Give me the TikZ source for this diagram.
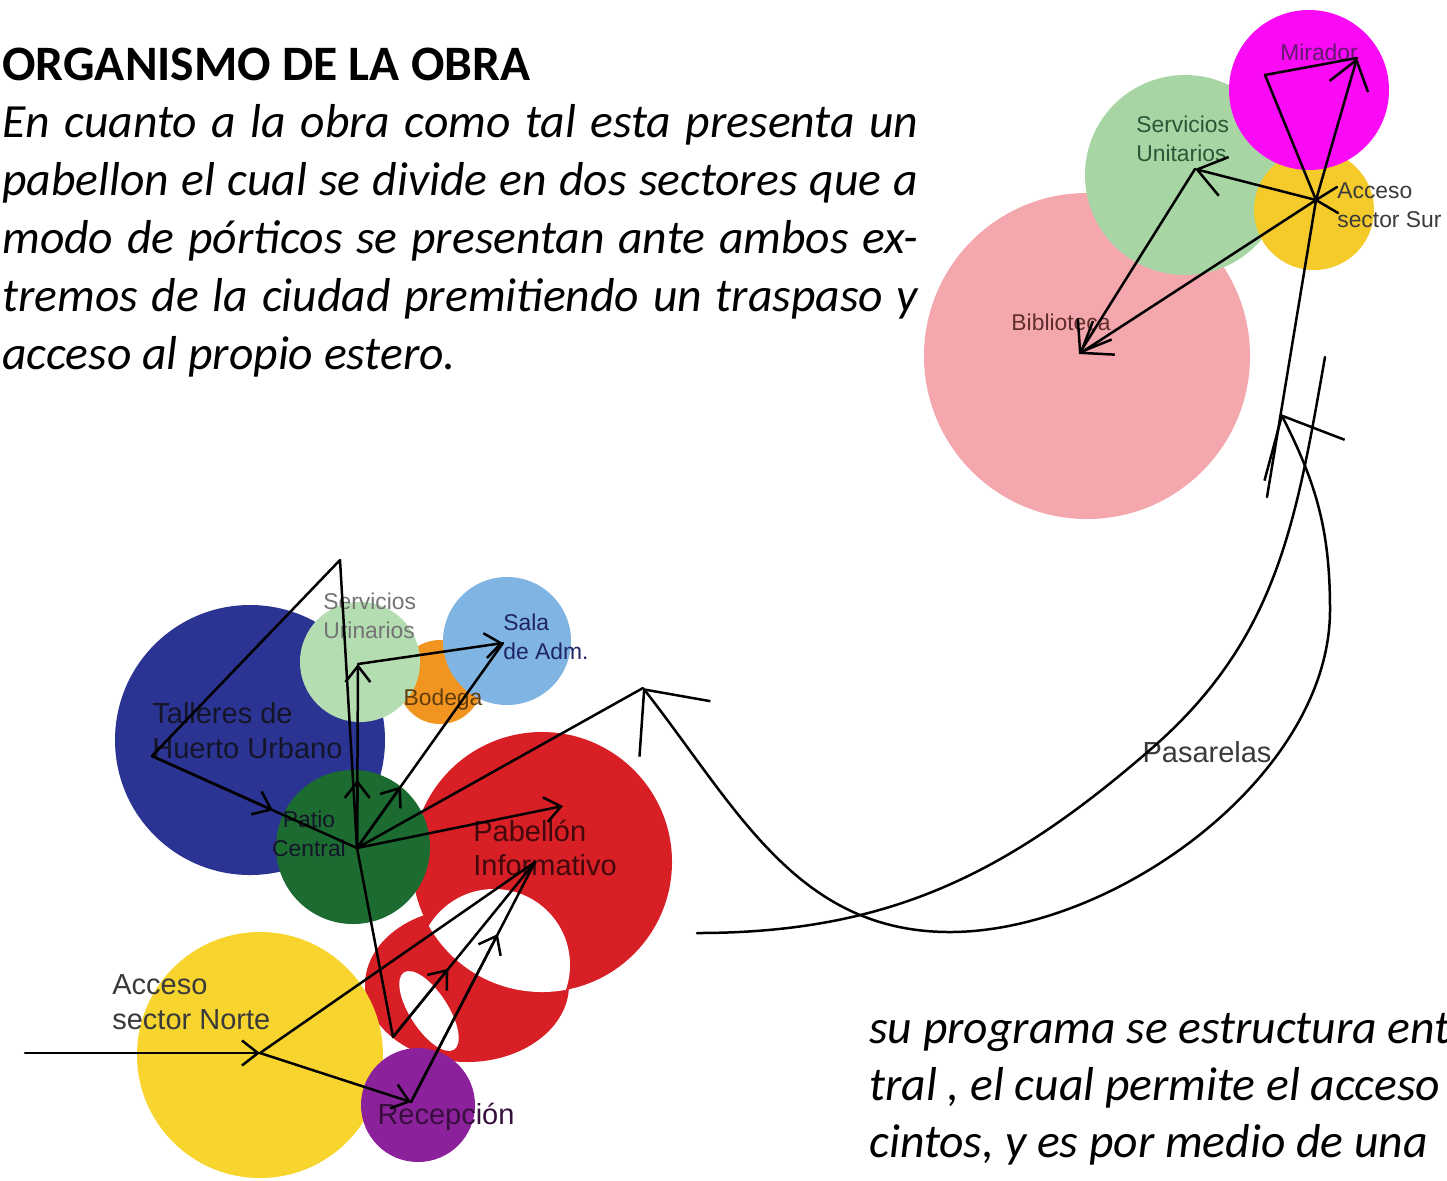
\documentclass[tikz,border=0pt]{standalone}
\usepackage{fontspec}
\setmainfont{Carlito}
\newfontfamily\lblfont{Liberation Sans}
\usepackage{xcolor}
\definecolor{cBiblio}{HTML}{F4A7AD}
\definecolor{cServU}{HTML}{A8D5A4}
\definecolor{cMirador}{HTML}{FA0AF5}
\definecolor{cSur}{HTML}{F5CB2C}
\definecolor{cTaller}{HTML}{2B3492}
\definecolor{cServL}{HTML}{B5DDB2}
\definecolor{cBodega}{HTML}{F29520}
\definecolor{cSala}{HTML}{80B4E2}
\definecolor{cPatio}{HTML}{1C6B31}
\definecolor{cPabellon}{HTML}{D81F26}
\definecolor{cNorte}{HTML}{F8D52E}
\definecolor{cRecep}{HTML}{8C229B}
\definecolor{cLabel}{HTML}{3A3A3A}
\definecolor{cLabelDark}{HTML}{15152A}
\usetikzlibrary{arrows.meta,calc}
\tikzset{
  zone/.style={circle,inner sep=0pt,draw=none},
  link/.style={line width=0.5mm,draw=black,line cap=round,line join=round},
  arrow/.style={link,-{Straight Barb[length=5.5mm,width=8mm]}},
  arrow-small/.style={link,-{Straight Barb[length=3.2mm,width=5mm]}},
  arrow-big/.style={link,{Straight Barb[length=10mm,width=18mm]}-{Straight Barb[length=10mm,width=18mm]}},
  lbl-s/.style={font=\lblfont\fontsize{13}{16.4}\selectfont,text=cLabel,align=left,inner sep=0pt},
  lbl-l/.style={font=\lblfont\fontsize{16.5}{19.8}\selectfont,text=cLabel,align=left,inner sep=0pt},
  body-line/.style={font=\fontsize{27.1}{33}\selectfont\itshape,inner sep=0pt,anchor=base west},
}

\begin{document}
\begin{tikzpicture}[x=0.2mm,y=-0.2mm]
  \useasboundingbox (0,0) rectangle (1447,1180);
  \clip (0,0) rectangle (1447,1180);
  \fill[white] (0,0) rectangle (1447,1180);

  % texto
  \node[anchor=base west,inner sep=0pt,font=\fontsize{28.2}{34}\selectfont\bfseries] (title) at (2,80) {ORGANISMO DE LA OBRA};
  \foreach \txt/\y [count=\i] in {{En cuanto a la obra como tal esta presenta un}/137,
      {pabellon el cual se divide en dos sectores que a}/195,
      {modo de pórticos se presentan ante ambos ex-}/253,
      {tremos de la ciudad premitiendo un traspaso y}/311} {
    \node[body-line] (intro-\i) at (2,\y) {\makebox[183.2mm][s]{\txt}};
  }
  \node[body-line] (intro-5) at (2,369) {acceso al propio estero.};
  \node[body-line] (prog-1) at (869,1043) {su programa se estructura ent};
  \node[body-line] (prog-2) at (869,1100) {tral , el cual permite el acceso};
  \node[body-line] (prog-3) at (869,1157) {cintos, y es por medio de una};

  % sector sur
  \node[zone,fill=cBiblio,minimum size=65.2mm] (biblio) at (1087,356) {};
  \node[zone,fill=cServU,minimum size=40mm] (serv-u) at (1185,175) {};
  \node[zone,fill=cSur,minimum size=24mm] (sur) at (1314,210) {};
  \node[zone,fill=cMirador,minimum size=32mm] (mirador) at (1309,90) {};

  % sector norte
  \fill[cPabellon] (467,985) ellipse [x radius=102,y radius=77];
  \fill[white,rotate around={-57:(429,1011)}] (429,1011) ellipse [x radius=46,y radius=19];
  \node[zone,fill=cPabellon,minimum size=52mm] (pabellon) at (542,862) {};
  \begin{scope}
    \clip (pabellon.center) circle [radius=130];
    \fill[white] (494,965) circle [radius=76];
  \end{scope}
  \node[zone,fill=cTaller,minimum size=54mm] (taller) at (250,740) {};
  \node[zone,fill=cBodega,minimum size=16.8mm] (bodega) at (440,682) {};
  \node[zone,fill=cSala,minimum size=25.6mm] (sala) at (507,641) {};
  \node[zone,fill=cServL,minimum size=24mm] (serv-l) at (360,662) {};
  \node[zone,fill=cPatio,minimum size=30.8mm] (patio) at (353,847) {};
  \node[zone,fill=cNorte,minimum size=49.2mm] (norte) at (260,1055) {};
  \node[zone,fill=cRecep,minimum size=22.8mm] (recep) at (418,1105) {};

  % etiquetas
  \node[lbl-s,text=cRecep!70!black] (mirador-lbl) at (1319,52) {Mirador};
  \node[lbl-s,anchor=west,text=cPatio!60!cLabel] (serv-u-lbl) at (1136,139) {Servicios\\Unitarios};
  \node[lbl-s,anchor=west] (sur-lbl) at (1337,205) {Acceso\\sector Sur};
  \node[lbl-s,text=cLabel!80!red] (biblio-lbl) at (1061,322) {Biblioteca};
  \node[lbl-s,anchor=west,text=gray!90!black] (serv-l-lbl) at (323,616) {Servicios\\Urinarios};
  \node[lbl-s,anchor=west,text=cTaller!70!black] (sala-lbl) at (503,637) {Sala\\de Adm.};
  \node[lbl-s,text=cBodega!40!black] (bodega-lbl) at (443,700) {Bodega};
  \node[lbl-l,anchor=west,text=cLabelDark] (taller-lbl) at (152,731) {Talleres de\\Huerto Urbano};
  \node[lbl-s,align=center,text=cLabelDark] (patio-lbl) at (309,834) {Patio\\Central};
  \node[lbl-l,anchor=west,text=cPabellon!30!black] (pabellon-lbl) at (473,848) {Pabellón\\Informativo};
  \node[lbl-l,anchor=west] (norte-lbl) at (112,1002) {Acceso\\sector Norte};
  \node[lbl-l,text=cRecep!40!black] (recep-lbl) at (446,1117) {Recepción};
  \node[lbl-l] (pas-lbl) at (1207,752) {Pasarelas};

  % puntos de conexion
  \coordinate (sur-hub) at (1316,200);
  \coordinate (unit-pt) at (1195,169);
  \coordinate (bib-pt) at (1079,354);
  \coordinate (mir-a) at (1265,75);
  \coordinate (mir-b) at (1357,58);
  \coordinate (sur-tail) at (1267,497);
  \coordinate (sur-tick-a) at (1337,187);
  \coordinate (sur-tick-b) at (1338,213);
  \coordinate (pas-out-a) at (643,688);
  \coordinate (pas-out-low) at (950,932);
  \coordinate (pas-out-side) at (1330,610);
  \coordinate (pas-out-b) at (1281,414);
  \coordinate (pas-in-a) at (1325,357);
  \coordinate (pas-in-mid) at (1151,749);
  \coordinate (pas-in-b) at (697,933);
  \coordinate (tal-pt) at (152,756);
  \coordinate (apex) at (340,560);
  \coordinate (hub) at (357,848);
  \coordinate (uri-pt) at (358,664);
  \coordinate (sala-pt) at (503,643);
  \coordinate (pab-pt) at (563,806);
  \coordinate (pab-hub) at (535,862);
  \coordinate (low-pt) at (393,1037);
  \coordinate (norte-pt) at (260,1053);
  \coordinate (west-pt) at (25,1053);
  \coordinate (recep-pt) at (411,1102);

  % recorridos sector sur
  \draw[link] (sur-tail) -- (sur-hub);
  \draw[link] (sur-hub) -- (mir-a) -- (mir-b);
  \draw[arrow] (sur-hub) -- (mir-b);
  \draw[arrow] (sur-hub) -- (unit-pt);
  \draw[arrow] (unit-pt) -- (bib-pt);
  \draw[arrow] (sur-hub) -- (bib-pt);
  \draw[link] (sur-tick-a) -- (sur-hub) -- (sur-tick-b);

  % pasarelas
  \draw[arrow-big] (pas-out-a) to[out=-52,in=180] (pas-out-low)
    to[out=0,in=-90,looseness=0.85] (pas-out-side) to[out=90,in=-63] (pas-out-b);
  \draw[link] (pas-in-a) to[out=-100,in=41] (pas-in-mid) to[out=-139,in=0] (pas-in-b);

  % recorridos sector norte
  \draw[link] (tal-pt) -- (apex) -- (hub);
  \draw[link] (tal-pt) -- (hub);
  \draw[arrow-small] (tal-pt) -- ($(tal-pt)!0.59!(hub)$);
  \draw[arrow-small] (hub) -- (uri-pt);
  \draw[arrow-small] (hub) -- ($(hub)!0.37!(uri-pt)$);
  \draw[arrow-small] (uri-pt) -- (sala-pt);
  \draw[link] (hub) -- (sala-pt);
  \draw[arrow-small] (hub) -- ($(hub)!0.3!(sala-pt)$);
  \draw[arrow-small] (hub) -- (pab-pt);
  \draw[link] (hub) -- (pas-out-a);
  \draw[link] (hub) -- (low-pt) -- (pab-hub);
  \draw[arrow-small] (low-pt) -- ($(low-pt)!0.39!(pab-hub)$);
  \draw[link] (recep-pt) -- (pab-hub);
  \draw[arrow-small] (recep-pt) -- ($(recep-pt)!0.7!(pab-hub)$);
  \draw[link] (norte-pt) -- (pab-hub);
  \draw[arrow-small] (west-pt) -- (norte-pt);
  \draw[arrow-small] (norte-pt) -- (recep-pt);
\end{tikzpicture}
\end{document}
